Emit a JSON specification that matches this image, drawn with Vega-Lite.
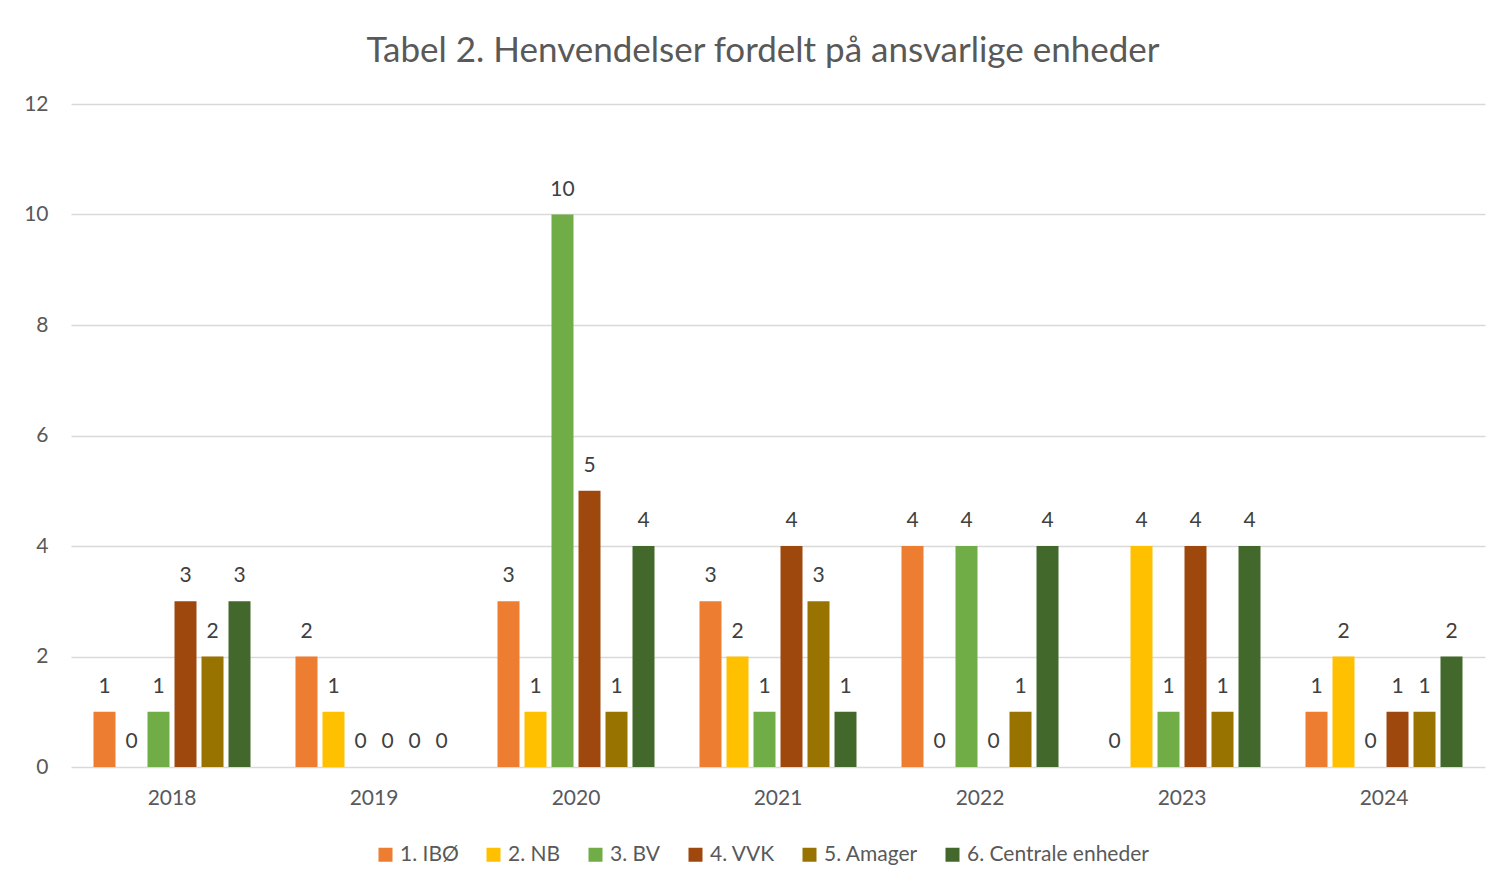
{
  "$schema": "https://vega.github.io/schema/vega-lite/v6.json",
  "width": 1414,
  "height": 663,
  "autosize": {"type": "none"},
  "padding": {"left": 71, "top": 104, "right": 14, "bottom": 115},
  "background": "white",
  "title": {
    "text": "Tabel 2. Henvendelser fordelt på ansvarlige enheder",
    "font": "Lato",
    "fontSize": 35,
    "fontWeight": "normal",
    "color": "#595959",
    "anchor": "middle",
    "offset": 24,
    "dx": -15
  },
  "data": {
    "values": [
      {"year": "2018", "unit": "1. IBØ", "value": 1},
      {"year": "2018", "unit": "2. NB", "value": 0},
      {"year": "2018", "unit": "3. BV", "value": 1},
      {"year": "2018", "unit": "4. VVK", "value": 3},
      {"year": "2018", "unit": "5. Amager", "value": 2},
      {"year": "2018", "unit": "6. Centrale enheder", "value": 3},
      {"year": "2019", "unit": "1. IBØ", "value": 2},
      {"year": "2019", "unit": "2. NB", "value": 1},
      {"year": "2019", "unit": "3. BV", "value": 0},
      {"year": "2019", "unit": "4. VVK", "value": 0},
      {"year": "2019", "unit": "5. Amager", "value": 0},
      {"year": "2019", "unit": "6. Centrale enheder", "value": 0},
      {"year": "2020", "unit": "1. IBØ", "value": 3},
      {"year": "2020", "unit": "2. NB", "value": 1},
      {"year": "2020", "unit": "3. BV", "value": 10},
      {"year": "2020", "unit": "4. VVK", "value": 5},
      {"year": "2020", "unit": "5. Amager", "value": 1},
      {"year": "2020", "unit": "6. Centrale enheder", "value": 4},
      {"year": "2021", "unit": "1. IBØ", "value": 3},
      {"year": "2021", "unit": "2. NB", "value": 2},
      {"year": "2021", "unit": "3. BV", "value": 1},
      {"year": "2021", "unit": "4. VVK", "value": 4},
      {"year": "2021", "unit": "5. Amager", "value": 3},
      {"year": "2021", "unit": "6. Centrale enheder", "value": 1},
      {"year": "2022", "unit": "1. IBØ", "value": 4},
      {"year": "2022", "unit": "2. NB", "value": 0},
      {"year": "2022", "unit": "3. BV", "value": 4},
      {"year": "2022", "unit": "4. VVK", "value": 0},
      {"year": "2022", "unit": "5. Amager", "value": 1},
      {"year": "2022", "unit": "6. Centrale enheder", "value": 4},
      {"year": "2023", "unit": "1. IBØ", "value": 0},
      {"year": "2023", "unit": "2. NB", "value": 4},
      {"year": "2023", "unit": "3. BV", "value": 1},
      {"year": "2023", "unit": "4. VVK", "value": 4},
      {"year": "2023", "unit": "5. Amager", "value": 1},
      {"year": "2023", "unit": "6. Centrale enheder", "value": 4},
      {"year": "2024", "unit": "1. IBØ", "value": 1},
      {"year": "2024", "unit": "2. NB", "value": 2},
      {"year": "2024", "unit": "3. BV", "value": 0},
      {"year": "2024", "unit": "4. VVK", "value": 1},
      {"year": "2024", "unit": "5. Amager", "value": 1},
      {"year": "2024", "unit": "6. Centrale enheder", "value": 2}
    ]
  },
  "encoding": {
    "x": {
      "field": "year",
      "type": "nominal",
      "scale": {"paddingInner": 0, "paddingOuter": 0},
      "axis": {
        "title": null,
        "labelAngle": 0,
        "domain": false,
        "ticks": false,
        "labelPadding": 20,
        "labelFontSize": 21,
        "labelFont": "Lato",
        "labelColor": "#595959"
      }
    },
    "xOffset": {
      "field": "unit",
      "type": "nominal",
      "scale": {"paddingInner": 0.185, "paddingOuter": 0.833}
    },
    "y": {
      "field": "value",
      "type": "quantitative",
      "scale": {"domain": [0, 12], "nice": false},
      "axis": {
        "title": null,
        "values": [0, 2, 4, 6, 8, 10, 12],
        "domain": false,
        "ticks": false,
        "labelPadding": 23,
        "labelFontSize": 21,
        "labelFont": "Lato",
        "labelColor": "#595959",
        "gridColor": "#D9D9D9",
        "gridWidth": 1.5
      }
    }
  },
  "layer": [
    {
      "mark": {"type": "bar"},
      "encoding": {
        "color": {
          "field": "unit",
          "type": "nominal",
          "scale": {
            "domain": ["1. IBØ", "2. NB", "3. BV", "4. VVK", "5. Amager", "6. Centrale enheder"],
            "range": ["#ED7D31", "#FFC000", "#70AD47", "#9E480E", "#997300", "#43682B"]
          },
          "legend": {
            "title": null,
            "orient": "none",
            "direction": "horizontal",
            "legendX": 304,
            "legendY": 740,
            "symbolType": "square",
            "symbolSize": 196,
            "symbolStrokeWidth": 0,
            "labelFontSize": 21,
            "labelFont": "Lato",
            "labelColor": "#595959",
            "labelOffset": 4,
            "labelLimit": 400,
            "columnPadding": 24
          }
        }
      }
    },
    {
      "mark": {"type": "text", "baseline": "bottom", "dy": -15, "font": "Lato", "fontSize": 21, "color": "#404040"},
      "encoding": {
        "text": {"field": "value", "type": "quantitative"}
      }
    }
  ],
  "config": {
    "view": {"stroke": null}
  }
}
